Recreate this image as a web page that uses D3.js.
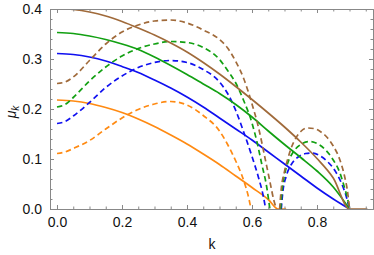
<!DOCTYPE html>
<html>
<head>
<meta charset="utf-8">
<script src="https://cdn.jsdelivr.net/npm/d3@7"></script>
<style>
  body { margin: 0; background: #fff; }
  text { font-family: "Liberation Sans", Arial, sans-serif; }
</style>
</head>
<body>
<svg id="chart" width="374" height="255"></svg>
<script>
// values: [k, mu]
const brownSolid = [[0,0.401],[0.05,0.399],[0.1,0.394],[0.15,0.386],[0.2,0.375],[0.25,0.362],[0.3,0.348],[0.35,0.332],[0.4,0.314],[0.45,0.293],[0.5,0.270],[0.55,0.245],[0.6,0.219],[0.65,0.192],[0.7,0.164],[0.75,0.134],[0.8,0.101],[0.85,0.062],[0.9,0],[0.955,0]];
const greenSolid = [[0,0.353],[0.05,0.351],[0.1,0.346],[0.15,0.339],[0.2,0.330],[0.25,0.319],[0.3,0.304],[0.35,0.287],[0.4,0.269],[0.45,0.250],[0.5,0.231],[0.55,0.209],[0.6,0.184],[0.65,0.156],[0.7,0.129],[0.75,0.103],[0.8,0.076],[0.85,0.044],[0.9,0]];
const blueSolid = [[0,0.311],[0.05,0.309],[0.1,0.304],[0.15,0.296],[0.2,0.285],[0.25,0.273],[0.3,0.258],[0.35,0.242],[0.4,0.224],[0.45,0.204],[0.5,0.182],[0.55,0.160],[0.6,0.138],[0.65,0.114],[0.7,0.090],[0.75,0.066],[0.8,0.042],[0.85,0.020],[0.9,0]];
const orangeSolid = [[0,0.218],[0.05,0.216],[0.1,0.211],[0.15,0.203],[0.2,0.193],[0.25,0.180],[0.3,0.165],[0.35,0.148],[0.4,0.130],[0.45,0.110],[0.5,0.089],[0.55,0.066],[0.6,0.043],[0.65,0.019],[0.68,0],[0.705,0]];

const brownDash1 = [[0,0.251],[0.025,0.254],[0.05,0.264],[0.1,0.297],[0.15,0.330],[0.2,0.354],[0.25,0.368],[0.3,0.376],[0.35,0.378],[0.4,0.372],[0.45,0.358],[0.5,0.339],[0.525,0.322],[0.55,0.295],[0.575,0.260],[0.6,0.210],[0.62,0.163],[0.64,0.102],[0.655,0.055],[0.667,0.018],[0.675,0]];
const brownDash2 = [[0.685,0],[0.69,0.040],[0.7,0.075],[0.71,0.100],[0.72,0.121],[0.735,0.142],[0.75,0.155],[0.77,0.162],[0.79,0.161],[0.81,0.155],[0.83,0.144],[0.85,0.126],[0.87,0.099],[0.885,0.065],[0.895,0.030],[0.9,0]];
const greenDash1 = [[0,0.204],[0.025,0.209],[0.05,0.223],[0.1,0.256],[0.15,0.284],[0.2,0.306],[0.25,0.321],[0.3,0.330],[0.35,0.335],[0.4,0.333],[0.45,0.323],[0.5,0.299],[0.525,0.277],[0.55,0.252],[0.575,0.216],[0.6,0.172],[0.615,0.135],[0.63,0.090],[0.645,0.045],[0.655,0]];
const greenDash2 = [[0.688,0],[0.693,0.040],[0.7,0.068],[0.71,0.092],[0.725,0.112],[0.75,0.129],[0.775,0.135],[0.8,0.131],[0.825,0.119],[0.85,0.098],[0.87,0.073],[0.885,0.042],[0.895,0.018],[0.9,0]];
const blueDash1 = [[0,0.171],[0.025,0.175],[0.05,0.186],[0.1,0.213],[0.15,0.243],[0.2,0.266],[0.25,0.283],[0.3,0.293],[0.35,0.297],[0.4,0.293],[0.45,0.279],[0.5,0.254],[0.525,0.231],[0.55,0.197],[0.575,0.153],[0.6,0.105],[0.62,0.063],[0.635,0.025],[0.642,0]];
const blueDash2 = [[0.69,0],[0.695,0.035],[0.705,0.065],[0.72,0.088],[0.74,0.103],[0.765,0.111],[0.785,0.112],[0.81,0.106],[0.835,0.093],[0.855,0.077],[0.875,0.052],[0.89,0.025],[0.9,0]];
const orangeDash1 = [[0,0.111],[0.025,0.114],[0.05,0.121],[0.1,0.137],[0.15,0.160],[0.2,0.182],[0.25,0.199],[0.3,0.210],[0.35,0.215],[0.4,0.208],[0.45,0.187],[0.5,0.156],[0.525,0.129],[0.55,0.096],[0.575,0.056],[0.59,0.022],[0.597,0]];

const xTicks = [0, 0.2, 0.4, 0.6, 0.8];
const yTicks = [0, 0.1, 0.2, 0.3, 0.4];

const series = [
  {data: orangeSolid, color: "#ff8a12", dash: null},
  {data: orangeDash1, color: "#ff8a12", dash: "5.5,3.5"},
  {data: blueSolid, color: "#1010f0", dash: null},
  {data: blueDash1, color: "#1010f0", dash: "5.5,3.5"},
  {data: blueDash2, color: "#1010f0", dash: "5.5,3.5"},
  {data: greenSolid, color: "#12a012", dash: null},
  {data: greenDash1, color: "#12a012", dash: "5.5,3.5"},
  {data: greenDash2, color: "#12a012", dash: "5.5,3.5"},
  {data: brownSolid, color: "#a06a3a", dash: null},
  {data: brownDash1, color: "#a06a3a", dash: "5.5,3.5"},
  {data: brownDash2, color: "#a06a3a", dash: "5.5,3.5"}
];

const svg = d3.select("#chart");
const pL = 50, pR = 373, pT = 9, pB = 209;

const x = d3.scaleLinear().domain([-0.0215, 0.9723]).range([pL, pR]);
const y = d3.scaleLinear().domain([0, 0.4]).range([pB, pT]);

svg.append("defs").append("clipPath").attr("id", "clip")
  .append("rect").attr("x", pL).attr("y", pT)
  .attr("width", pR - pL).attr("height", pB - pT);

const line = d3.line()
  .x(d => x(d[0]))
  .y(d => y(d[1]))
  .curve(d3.curveMonotoneX);

const plot = svg.append("g").attr("clip-path", "url(#clip)");
plot.selectAll("path")
  .data(series)
  .enter()
  .append("path")
  .attr("d", d => line(d.data))
  .attr("fill", "none")
  .attr("stroke", d => d.color)
  .attr("stroke-width", 1.7)
  .attr("stroke-dasharray", d => d.dash);

// frame with inward ticks on all sides
const frameColor = "#888";
const xMinor = d3.range(0, 0.96, 0.05).filter(v => !xTicks.some(t => Math.abs(t - v) < 1e-6));
const yMinor = d3.range(0, 0.401, 0.02).filter(v => !yTicks.some(t => Math.abs(t - v) < 1e-6));

svg.append("g").attr("transform", `translate(0,${pB})`)
  .call(d3.axisBottom(x).tickValues(xTicks).tickFormat(d3.format(".1f")).tickSizeInner(-4).tickSizeOuter(0).tickPadding(8));
svg.append("g").attr("transform", `translate(${pL},0)`)
  .call(d3.axisLeft(y).tickValues(yTicks).tickFormat(d3.format(".1f")).tickSizeInner(-4).tickSizeOuter(0).tickPadding(8));
svg.append("g").attr("transform", `translate(0,${pT})`)
  .call(d3.axisTop(x).tickValues(xTicks).tickFormat("").tickSizeInner(-4).tickSizeOuter(0));
svg.append("g").attr("transform", `translate(${pR},0)`)
  .call(d3.axisRight(y).tickValues(yTicks).tickFormat("").tickSizeInner(-4).tickSizeOuter(0));

svg.append("g").attr("transform", `translate(0,${pB})`)
  .call(d3.axisBottom(x).tickValues(xMinor).tickFormat("").tickSizeInner(-2.5).tickSizeOuter(0));
svg.append("g").attr("transform", `translate(0,${pT})`)
  .call(d3.axisTop(x).tickValues(xMinor).tickFormat("").tickSizeInner(-2.5).tickSizeOuter(0));
svg.append("g").attr("transform", `translate(${pL},0)`)
  .call(d3.axisLeft(y).tickValues(yMinor).tickFormat("").tickSizeInner(-2.5).tickSizeOuter(0));
svg.append("g").attr("transform", `translate(${pR},0)`)
  .call(d3.axisRight(y).tickValues(yMinor).tickFormat("").tickSizeInner(-2.5).tickSizeOuter(0));

svg.selectAll(".domain").attr("stroke", frameColor);
svg.selectAll(".tick line").attr("stroke", frameColor);
svg.selectAll(".tick text").attr("font-size", 14).attr("fill", "#111")
  .style("font-family", "'Liberation Sans', Arial, sans-serif");

// axis labels
const yl = svg.append("text")
  .attr("transform", "translate(16,112) rotate(-90)")
  .attr("text-anchor", "middle")
  .attr("font-size", 14)
  .attr("fill", "#111");
yl.append("tspan").attr("font-style", "italic").text("μ");
yl.append("tspan").attr("font-size", 10).attr("font-style", "italic").attr("dy", 3).text("k");

svg.append("text")
  .attr("x", 212).attr("y", 249)
  .attr("text-anchor", "middle")
  .attr("font-size", 14)
  .attr("fill", "#111")
  .text("k");
</script>
</body>
</html>
